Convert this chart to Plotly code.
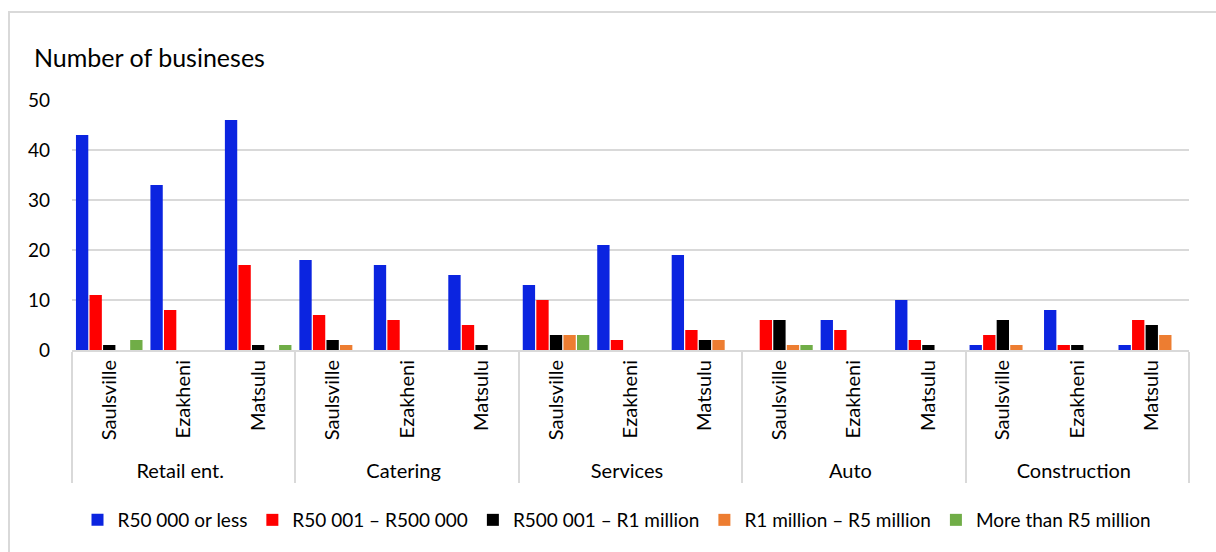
import plotly.graph_objects as go

sectors = ["Retail ent.", "Catering", "Services", "Auto", "Construction"]
towns = ["Saulsville", "Ezakheni", "Matsulu"]

series_names = ["R50 000 or less", "R50 001 – R500 000", "R500 001 – R1 million",
                "R1 million – R5 million", "More than R5 million"]
colors = ["#0B24E0", "#FF0000", "#000000", "#ED7D31", "#70AD47"]

# values ordered: sector x town (Saulsville, Ezakheni, Matsulu)
r50_or_less = [43, 33, 46, 18, 17, 15, 13, 21, 19, 0, 6, 10, 1, 8, 1]
r50_to_500k = [11, 8, 17, 7, 6, 5, 10, 2, 4, 6, 4, 2, 3, 1, 6]
r500k_to_1m = [1, 0, 1, 2, 0, 1, 3, 0, 2, 6, 0, 1, 6, 1, 5]
r1m_to_5m = [0, 0, 0, 1, 0, 0, 3, 0, 2, 1, 0, 0, 1, 0, 3]
more_5m = [2, 0, 1, 0, 0, 0, 3, 0, 0, 1, 0, 0, 0, 0, 0]

y_ticks = [0, 10, 20, 30, 40, 50]

outer = [s for s in sectors for _ in towns]
inner = [t for _ in sectors for t in towns]

FONT = "Lato, 'Liberation Sans', sans-serif"

fig = go.Figure()
for name, col, vals in zip(series_names, colors,
                           [r50_or_less, r50_to_500k, r500k_to_1m, r1m_to_5m, more_5m]):
    fig.add_trace(go.Bar(x=[outer, inner], y=vals, name=name,
                         marker=dict(color=col, line=dict(width=0))))

fig.update_layout(
    width=1216, height=552,
    margin=dict(l=72, r=27, t=100, b=202, autoexpand=False),
    paper_bgcolor="white", plot_bgcolor="white",
    barmode="group", bargap=0.09, bargroupgap=0.09,
    font=dict(family=FONT, size=19, color="#000000"),
    legend=dict(orientation="h", x=(617 - 72) / 1117, xanchor="center", y=-0.68,
                yanchor="middle", font=dict(size=19), itemwidth=30, traceorder="normal"),
    showlegend=True,
)
fig.update_xaxes(
    type="multicategory", tickangle=-90, showgrid=False,
    showline=True, linecolor="#d9d9d9", linewidth=2,
    showdividers=True, dividercolor="#d9d9d9", dividerwidth=2,
    tickfont=dict(size=20, family=FONT), ticks="",
)
fig.update_yaxes(
    range=[0, 50], tickvals=y_ticks, showgrid=True, gridcolor="#d9d9d9", gridwidth=2,
    zeroline=False, showline=False, tickfont=dict(size=19, family=FONT),
    ticklabelstandoff=21,
)
fig.add_annotation(text="Number of busineses", xref="paper", yref="paper",
                   x=(32 - 72) / 1117, y=(350 - 57) / 250, xanchor="left", yanchor="middle",
                   showarrow=False, font=dict(size=25, family=FONT))
fig.add_shape(type="rect", xref="paper", yref="paper",
              x0=(9 - 72) / 1117, x1=1.2, y0=-1.5, y1=(350 - 12) / 250,
              line=dict(color="#d9d9d9", width=2), layer="below")

fig.write_html("out.html")
